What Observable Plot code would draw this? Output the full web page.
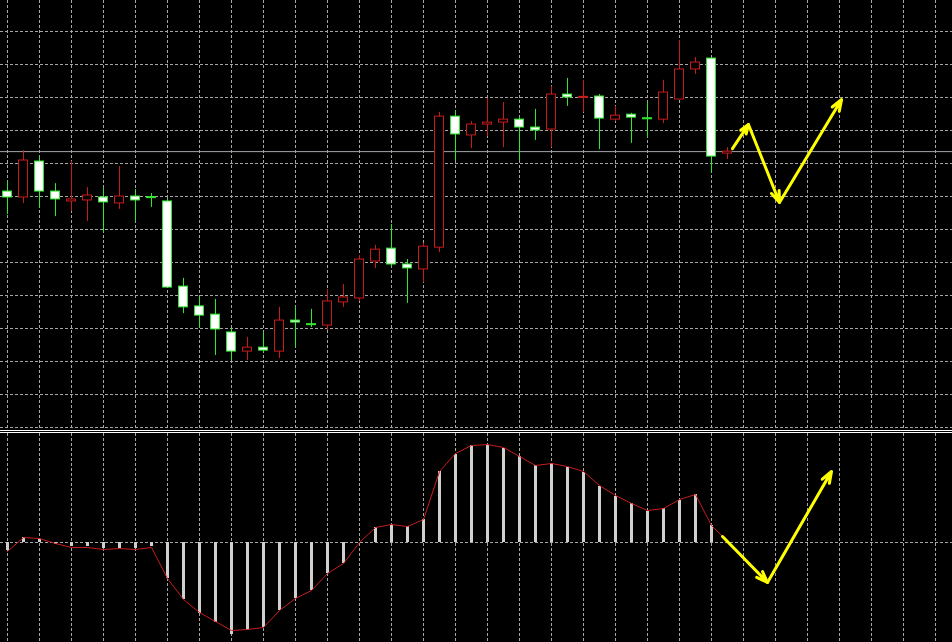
<!DOCTYPE html>
<html>
<head>
<meta charset="utf-8">
<script src="https://cdn.jsdelivr.net/npm/d3@7"></script>
<script src="https://cdn.jsdelivr.net/npm/@observablehq/plot@0.6"></script>
<style>
html,body{margin:0;padding:0;background:#000;overflow:hidden}
#chart{width:952px;height:642px;background:#000}
#chart svg{display:block}
.sep{height:1px;background:#000;border-top:1px solid #fff;border-bottom:1px solid #fff}
</style>
</head>
<body>
<div id="chart"><div id="top"></div><div class="sep"></div><div id="bottom"></div></div>
<script>
// ---- candle data (bar 0 .. 45) ----
const opens  = [1.36515,1.36497,1.36606,1.36515,1.36485,1.36488,1.36497,1.36479,1.36500,1.36498,
                1.36485,1.36227,1.36167,1.36142,1.36088,1.36030,1.36042,1.36030,1.36124,1.36113,
                1.36109,1.36179,1.36191,1.36303,1.36342,1.36294,1.36279,1.36345,1.36742,1.36685,
                1.36718,1.36724,1.36733,1.36709,1.36703,1.36809,1.36799,1.36803,1.36733,1.36748,
                1.36737,1.36733,1.36794,1.36885,1.36918,1.36630];
const highs  = [1.36545,1.36639,1.36621,1.36539,1.36606,1.36527,1.36524,1.36591,1.36521,1.36509,
                1.36494,1.36252,1.36197,1.36188,1.36100,1.36073,1.36088,1.36164,1.36164,1.36158,
                1.36218,1.36233,1.36321,1.36352,1.36415,1.36309,1.36358,1.36755,1.36761,1.36727,
                1.36797,1.36785,1.36739,1.36764,1.36833,1.36858,1.36852,1.36809,1.36773,1.36752,
                1.36785,1.36852,1.36973,1.36921,1.36918,1.36648];
const lows   = [1.36445,1.36479,1.36464,1.36439,1.36455,1.36424,1.36391,1.36461,1.36424,1.36467,
                1.36224,1.36145,1.36100,1.36018,1.36003,1.36003,1.36027,1.36009,1.36042,1.36103,
                1.36094,1.36164,1.36182,1.36282,1.36285,1.36176,1.36239,1.36330,1.36609,1.36645,
                1.36682,1.36648,1.36609,1.36670,1.36648,1.36773,1.36755,1.36642,1.36727,1.36661,
                1.36679,1.36721,1.36794,1.36870,1.36570,1.36612];
const closes = [1.36497,1.36609,1.36515,1.36491,1.36491,1.36503,1.36482,1.36500,1.36488,1.36495,
                1.36224,1.36164,1.36139,1.36097,1.36030,1.36042,1.36033,1.36124,1.36118,1.36110,
                1.36182,1.36194,1.36309,1.36339,1.36294,1.36282,1.36348,1.36742,1.36688,1.36718,
                1.36724,1.36733,1.36709,1.36700,1.36809,1.36800,1.36802,1.36736,1.36745,1.36739,
                1.36734,1.36815,1.36885,1.36906,1.36621,1.36636];

// ---- MACD histogram and signal line ----
const macdHist   = [-0.00008,0.00005,0.00003,-0.00002,-0.00004,-0.00004,-0.00006,-0.00006,-0.00006,-0.00004,
                    -0.00036,-0.00057,-0.00071,-0.00080,-0.00092,-0.00088,-0.00085,-0.00068,-0.00056,-0.00048,
                    -0.00031,-0.00021,0.00000,0.00015,0.00017,0.00016,0.00023,0.00071,0.00088,0.00097,
                    0.00097,0.00094,0.00086,0.00077,0.00079,0.00075,0.00070,0.00056,0.00046,0.00039,
                    0.00031,0.00034,0.00042,0.00048,0.00017,0.00001];
const macdSignal = [-0.00009,0.00005,0.00004,-0.00001,-0.00005,-0.00005,-0.00007,-0.00006,-0.00007,-0.00005,
                    -0.00036,-0.00057,-0.00070,-0.00079,-0.00088,-0.00087,-0.00085,-0.00068,-0.00056,-0.00048,
                    -0.00031,-0.00021,0.00000,0.00015,0.00018,0.00016,0.00023,0.00071,0.00089,0.00097,
                    0.00098,0.00095,0.00086,0.00077,0.00079,0.00076,0.00071,0.00057,0.00047,0.00039,
                    0.00032,0.00034,0.00043,0.00048,0.00017,0.00001];

// ---- grid ticks ----
const gridBars   = [0,2,4,6,8,10,12,14,16,18,20,22,24,26,28,30,32,34,36,38,40,42,44,46,48,50,52,54,56,58];
const gridPrices = [1.370,1.369,1.368,1.367,1.366,1.365,1.364,1.363,1.362,1.361,1.360,1.359,1.358];
const currentPrice = 1.36636;

// ---- forecast arrows (bar position, value) ----
const arrowTopBar   = [45.31, 46.31, 48.25, 52.13];
const arrowTopPrice = [1.36645, 1.36718, 1.36482, 1.36794];
const arrowLowBar   = [44.69, 47.5, 51.5];
const arrowLowMacd  = [0.00006, -0.00040, 0.00071];

// ---- build tables ----
const candles = opens.map((o, i) => ({
  i, open: o, high: highs[i], low: lows[i], close: closes[i],
  up: closes[i] > o
}));
const macd = macdHist.map((h, i) => ({i, hist: h, signal: macdSignal[i]}));
const segs = (xs, ys) => xs.slice(1).map((x, k) => ({x1: xs[k], y1: ys[k], x2: x, y2: ys[k + 1]}));
const topArrows = segs(arrowTopBar, arrowTopPrice);
const lowArrows = segs(arrowLowBar, arrowLowMacd);

const RED = "#c81c1c", GREEN = "#2ee82e", GRID = "#a6a6a6", YELLOW = "#ffff00";
const W = 952;
const xScale = {domain: [-0.4375, 59.0625], range: [0, W]};
const half = 0.28;

const topPlot = Plot.plot({
  width: W, height: 430,
  marginTop: 0, marginBottom: 0, marginLeft: 0, marginRight: 0,
  style: {background: "#000"},
  x: {...xScale, axis: null},
  y: {domain: [1.357909091, 1.370939394], range: [430, 0], axis: null},
  color: {type: "identity"},
  marks: [
    Plot.ruleX(gridBars, {x: d => d, stroke: GRID, strokeDasharray: "3,2"}),
    Plot.ruleY(gridPrices, {y: d => d, stroke: GRID, strokeDasharray: "3,2"}),
    Plot.ruleY([currentPrice], {y: d => d, stroke: "#a4a4ac"}),
    Plot.ruleX(candles, {x: "i", y1: "low", y2: "high", stroke: d => d.up ? RED : GREEN}),
    Plot.rect(candles, {
      x1: d => d.i - half, x2: d => d.i + half, y1: "open", y2: "close",
      fill: d => d.up ? "#000" : "#fff", stroke: d => d.up ? RED : GREEN, strokeWidth: 1
    }),
    Plot.arrow(topArrows, {x1: "x1", y1: "y1", x2: "x2", y2: "y2", stroke: YELLOW, strokeWidth: 3, headLength: 6, headAngle: 40})
  ]
});

const bottomPlot = Plot.plot({
  width: W, height: 209,
  marginTop: 0, marginBottom: 0, marginLeft: 0, marginRight: 0,
  style: {background: "#000"},
  x: {...xScale, axis: null},
  y: {domain: [-0.00100, 0.00109], range: [209, 0], axis: null},
  marks: [
    Plot.ruleX(gridBars, {x: d => d, stroke: GRID, strokeDasharray: "3,2"}),
    Plot.ruleY([0], {y: d => d, stroke: GRID, strokeDasharray: "3,2"}),
    Plot.ruleX(macd, {x: "i", y: "hist", stroke: "#cfcfcf", strokeWidth: 3}),
    Plot.line(macd, {x: "i", y: "signal", stroke: RED, strokeWidth: 1}),
    Plot.arrow(lowArrows, {x1: "x1", y1: "y1", x2: "x2", y2: "y2", stroke: YELLOW, strokeWidth: 3, headLength: 6, headAngle: 40})
  ]
});

document.getElementById("top").append(topPlot);
document.getElementById("bottom").append(bottomPlot);
</script>
</body>
</html>
